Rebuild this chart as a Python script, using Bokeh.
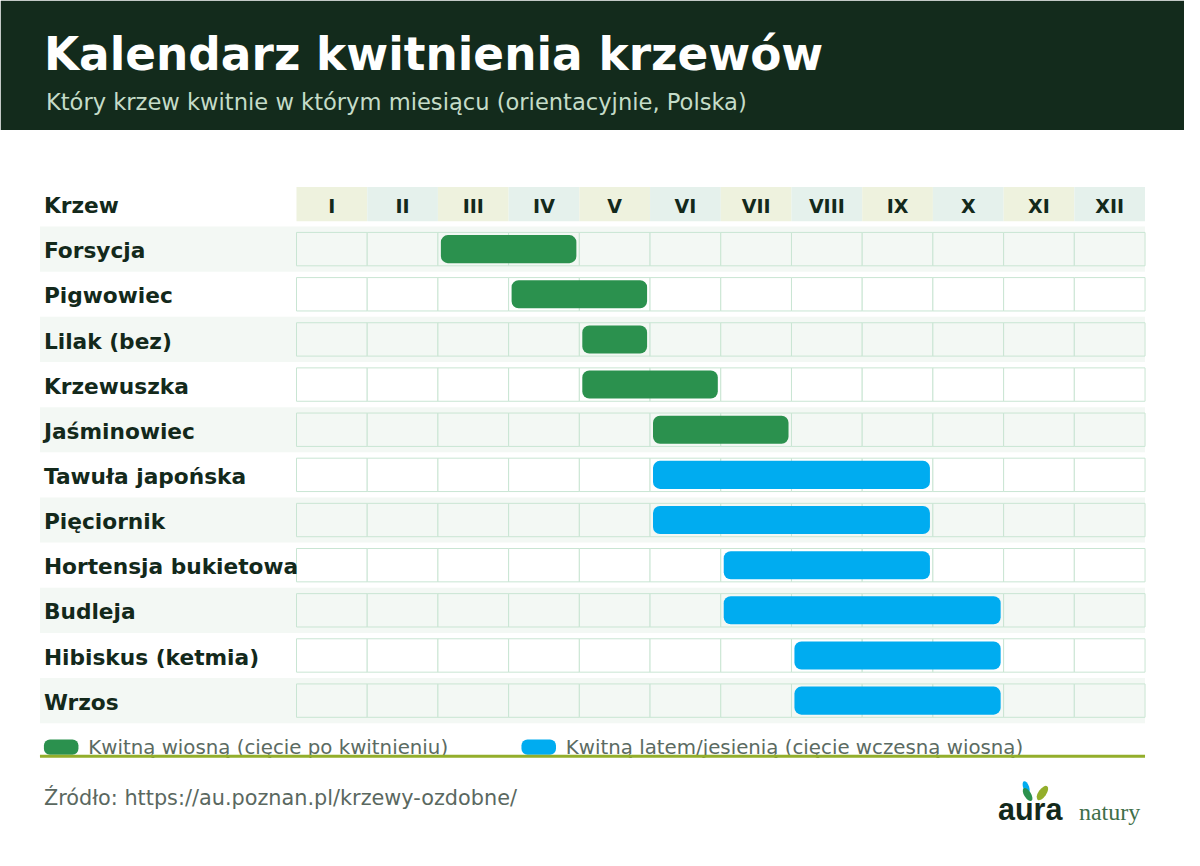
from bokeh.plotting import figure
from bokeh.models import Range1d
from bokeh.core.properties import value
from bokeh.embed import file_html
from bokeh.resources import INLINE

# --- data -------------------------------------------------------------
title = "Kalendarz kwitnienia krzewów"
subtitle = "Który krzew kwitnie w którym miesiącu (orientacyjnie, Polska)"
source = "Źródło: https://au.poznan.pl/krzewy-ozdobne/"
first_col = "Krzew"

months = ["I", "II", "III", "IV", "V", "VI", "VII", "VIII", "IX", "X", "XI", "XII"]
shrubs = ["Forsycja", "Pigwowiec", "Lilak (bez)", "Krzewuszka", "Jaśminowiec",
          "Tawuła japońska", "Pięciornik", "Hortensja bukietowa", "Budleja",
          "Hibiskus (ketmia)", "Wrzos"]
start_month = [3, 4, 5, 5, 6, 6, 6, 7, 7, 8, 8]
end_month = [4, 5, 5, 6, 7, 9, 9, 9, 10, 10, 10]
season = ["wiosna", "wiosna", "wiosna", "wiosna", "wiosna",
          "lato", "lato", "lato", "lato", "lato", "lato"]
legend_labels = ["Kwitną wiosną (cięcie po kwitnieniu)",
                 "Kwitną latem/jesienią (cięcie wczesną wiosną)"]

GREEN = "#2b914e"
BLUE = "#00acf0"
OLIVE = "#93ae2b"
DARK = "#132b1c"
TEXT = "#13291b"
colors = {"wiosna": GREEN, "lato": BLUE}

# --- layout: reference pixels mapped to month / row units ----------------
COLW = 860 / 12
ROWH = 46


def X(px):
    return (px - 300) / COLW + 0.5


def Y(py):
    return (py - 253.3) / ROWH


def B(py, size):
    # svg text sits a bit low on "alphabetic", pull it up
    return Y(py - 0.35 * size)


p = figure(width=1184, height=850, output_backend="svg", toolbar_location=None,
           x_range=Range1d(X(0), X(1200)), y_range=Range1d(Y(866), Y(0)),
           min_border=0, background_fill_color="white", border_fill_color="white")
p.axis.visible = False
p.grid.visible = False
p.outline_line_color = None

FONT = value("DejaVu Sans")

# header band
p.quad(left=X(0), right=X(1200), top=Y(0), bottom=Y(132), fill_color=DARK, line_color=None)
p.text(x=[X(44)], y=[B(71, 46)], text=[title], text_font=FONT, text_font_style="bold",
       text_font_size="45.4px", text_color="white", text_baseline="alphabetic")
p.text(x=[X(46)], y=[B(111, 23)], text=[subtitle], text_font=FONT,
       text_font_size="22.6px", text_color="#c5dcc8", text_baseline="alphabetic")

# month header
m_idx = list(range(1, len(months) + 1))
p.quad(left=[m - 0.5 for m in m_idx], right=[m + 0.5 for m in m_idx],
       top=Y(190), bottom=Y(225),
       fill_color=["#eef2de" if m % 2 else "#e5f1ec" for m in m_idx], line_color=None)
p.text(x=m_idx, y=B(216.5, 19), text=months, text_font=FONT, text_font_style="bold",
       text_font_size="19px", text_color=TEXT, text_align="center", text_baseline="alphabetic")
p.text(x=[X(44)], y=[B(216.5, 22)], text=[first_col], text_font=FONT, text_font_style="bold",
       text_font_size="21.7px", text_color=TEXT, text_baseline="alphabetic")

# row bands and cells
rows = list(range(len(shrubs)))
stripe = [r for r in rows if r % 2 == 0]
p.quad(left=X(40), right=X(1160), top=[r - 0.5 for r in stripe], bottom=[r + 0.5 for r in stripe],
       fill_color="#f3f8f4", line_color=None)

cl, cr, ct, cb, cf = [], [], [], [], []
for r in rows:
    for m in m_idx:
        cl.append(m - 0.5)
        cr.append(m + 0.5)
        ct.append(r - 17 / ROWH)
        cb.append(r + 17 / ROWH)
        cf.append("#f3f8f4" if r % 2 == 0 else "white")
p.quad(left=cl, right=cr, top=ct, bottom=cb, fill_color=cf, line_color="#c9e5d3", line_width=1)

lab_dy = (9.4 - 0.35 * 22) / ROWH
p.text(x=X(44), y=[r + lab_dy for r in rows], text=shrubs, text_font=FONT,
       text_font_style="bold", text_font_size="21.7px", text_color=TEXT, text_baseline="alphabetic")

# bloom bars
inset = 3 / COLW
half = 14.3 / ROWH
p.quad(left=[s - 0.5 + inset for s in start_month], right=[e + 0.5 - inset for e in end_month],
       top=[r - half for r in rows], bottom=[r + half for r in rows],
       fill_color=[colors[s] for s in season], line_color=None, border_radius=7)

# legend
leg_x = [44, 528]
for lx, lab, col in zip(leg_x, legend_labels, [GREEN, BLUE]):
    p.quad(left=X(lx), right=X(lx + 35), top=Y(753), bottom=Y(768.5),
           fill_color=col, line_color=None, border_radius=6)
    p.text(x=[X(lx + 45)], y=[B(768, 20)], text=[lab], text_font=FONT, text_font_size="19.8px",
           text_color="#5b6b62", text_baseline="alphabetic")
p.segment(x0=X(40), x1=X(1160), y0=Y(770), y1=Y(770), line_color=OLIVE, line_width=3)

# footer
p.text(x=[X(44)], y=[B(820, 21)], text=[source], text_font=FONT, text_font_size="20.8px",
       text_color="#5a6860", text_baseline="alphabetic")

# logo
p.ellipse(x=[X(1039.5), X(1041), X(1056)], y=[Y(801.5), Y(809), Y(807.5)],
          width=[6 / COLW, 7 / COLW, 8 / COLW], height=[13 / ROWH, 15 / ROWH, 17 / ROWH],
          angle=[0.35, 0.55, -0.6], fill_color=[BLUE, GREEN, OLIVE], line_color=None)
p.text(x=[X(1011)], y=[B(835, 31)], text=["aura"], text_font=value("Liberation Sans"),
       text_font_style="bold", text_font_size="30.5px", text_color=TEXT, text_baseline="alphabetic")
p.text(x=[X(1093)], y=[B(835, 24)], text=["natury"], text_font=value("Liberation Serif"),
       text_font_size="24px", text_color="#3f6f4a", text_baseline="alphabetic")

open("out.html", "w").write(file_html(p, INLINE))
